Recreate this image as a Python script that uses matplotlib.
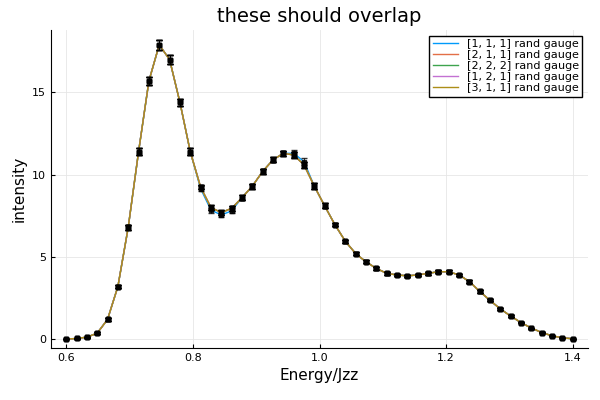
import numpy as np
import matplotlib.pyplot as plt
from matplotlib.lines import Line2D

# Energy grid (50 points from 0.6 to 1.4)
energy = np.linspace(0.6, 1.4, 50)

base = [0.0, 0.04, 0.12, 0.36, 1.2, 3.2, 6.8, 11.4, 15.7, 17.9,
        17.0, 14.4, 11.4, 9.25, 8.0, 7.7, 7.95, 8.6, 9.3, 10.2,
        10.9, 11.3, 11.2, 10.6, 9.3, 8.1, 6.95, 5.95, 5.2, 4.7,
        4.3, 4.0, 3.9, 3.85, 3.9, 4.0, 4.1, 4.1, 3.9, 3.5,
        2.9, 2.35, 1.83, 1.4, 1.0, 0.67, 0.4, 0.2, 0.08, 0.02]
blue = list(base)
blue[13:17] = [9.15, 7.85, 7.55, 7.8]
blue[22:24] = [11.3, 10.8]
errs = [0.01, 0.02, 0.03, 0.05, 0.08, 0.1, 0.15, 0.2, 0.25, 0.3,
        0.25, 0.2, 0.2, 0.15, 0.15, 0.15, 0.15, 0.15, 0.15, 0.15,
        0.15, 0.15, 0.2, 0.2, 0.2, 0.15, 0.1, 0.1, 0.1, 0.1,
        0.1, 0.08, 0.08, 0.08, 0.08, 0.08, 0.1, 0.1, 0.08, 0.08,
        0.08, 0.06, 0.05, 0.05, 0.04, 0.03, 0.02, 0.02, 0.01, 0.01]

labels = ["[1, 1, 1] rand gauge", "[2, 1, 1] rand gauge", "[2, 2, 2] rand gauge",
          "[1, 2, 1] rand gauge", "[3, 1, 1] rand gauge"]
colors = ["#009AFA", "#E36F47", "#3EA44E", "#C371D2", "#AC8E18"]
series = [blue, base, base, base, base]

fig, ax = plt.subplots(figsize=(6, 4), dpi=100)
for vals, col in zip(series, colors):
    ax.plot(energy, vals, color=col, lw=1, zorder=2)
    ax.errorbar(energy, vals, yerr=errs, fmt="s", ms=2.5, mfc="black", mec="black",
                ecolor="black", elinewidth=0.7, capsize=2.5, alpha=0.8, zorder=3)

ax.set_xlim(0.576, 1.424)
ax.set_ylim(-0.54, 18.8)
ax.set_xticks([0.6, 0.8, 1.0, 1.2, 1.4])
ax.set_yticks([0, 5, 10, 15])
ax.grid(True, color="#e6e6e6", lw=0.6)
ax.set_axisbelow(True)
for s in ["top", "right"]:
    ax.spines[s].set_visible(False)
ax.tick_params(labelsize=8, direction="in", length=3)
ax.set_xlabel("Energy/Jzz", fontsize=11)
ax.set_ylabel("intensity", fontsize=11)
ax.set_title("these should overlap", fontsize=14)
handles = [Line2D([], [], color=c, lw=1) for c in colors]
ax.legend(handles, labels, loc="upper right", fontsize=8, fancybox=False,
          edgecolor="black", handlelength=2.3, borderpad=0.3, labelspacing=0.1,
          framealpha=1)
plt.subplots_adjust(left=0.085, right=0.98, bottom=0.13, top=0.925)
plt.savefig("out.png", dpi=100)
